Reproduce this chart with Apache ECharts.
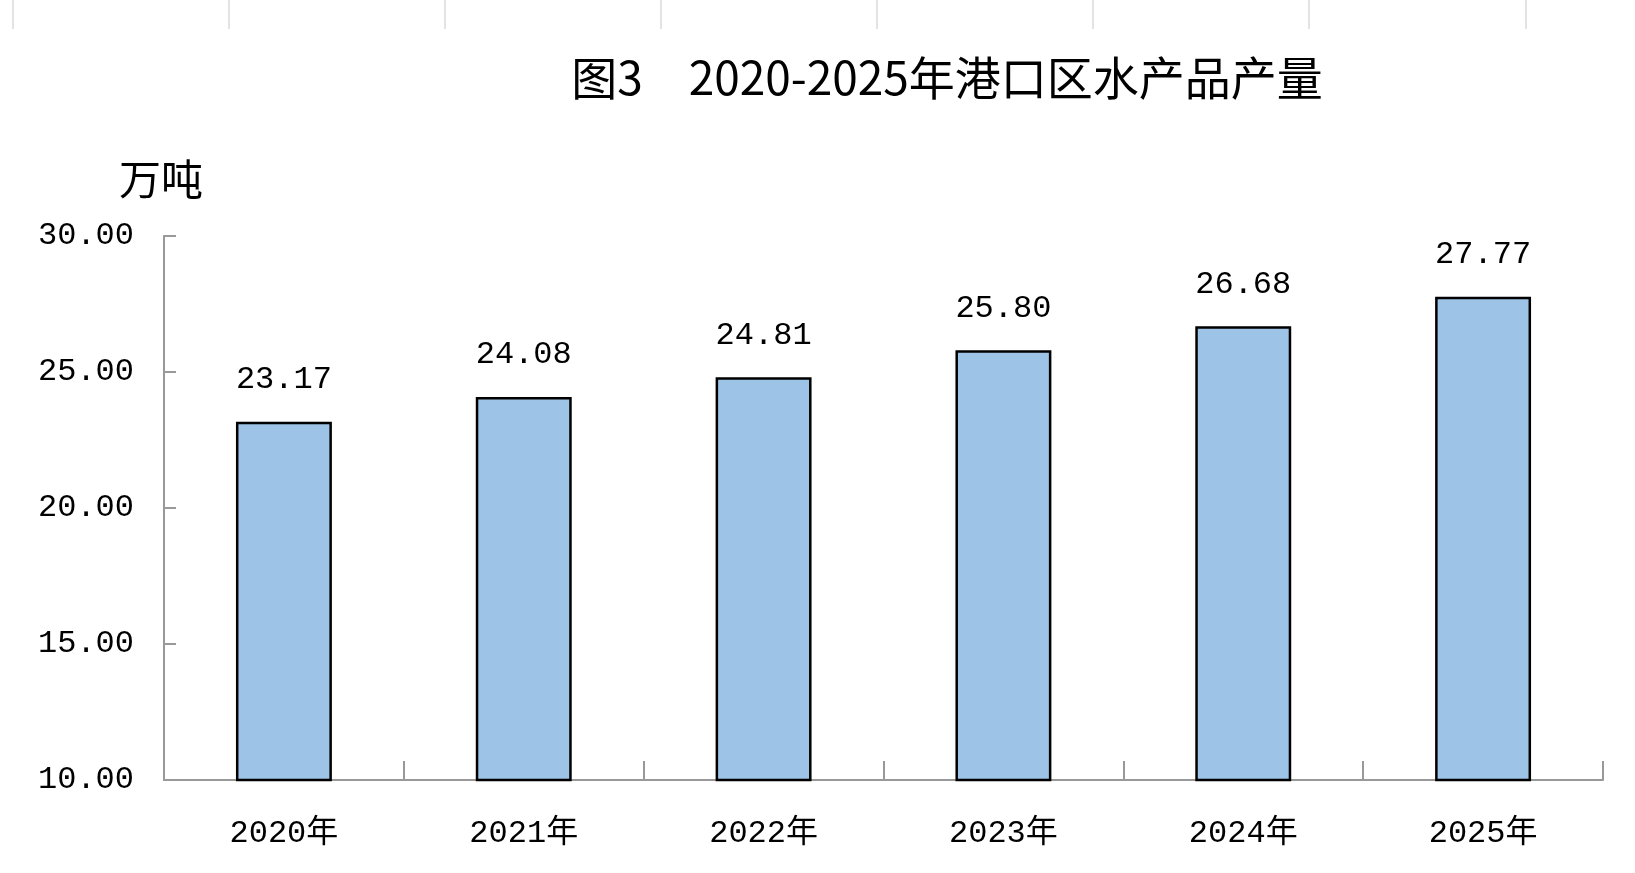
<!DOCTYPE html>
<html>
<head>
<meta charset="utf-8">
<title>港口区水产品产量</title>
<script src="https://cdn.jsdelivr.net/npm/echarts@6/dist/echarts.min.js"></script>
<style>
    html, body { margin: 0; padding: 0; background: #fff; }
    #chart { width: 1635px; height: 873px; }
</style>
</head>
<body>
<div id="chart"></div>
<script>
// 年份
const years = ['2020年', '2021年', '2022年', '2023年', '2024年', '2025年'];
// 水产品产量（万吨）
const output = [23.17, 24.08, 24.81, 25.80, 26.68, 27.77];

const monoFont = '"Liberation Mono", "Noto Sans CJK SC", monospace';

// 表格顶部的浅灰色竖线
const sheetLines = [13, 229, 445, 661, 877, 1093, 1309, 1526].map(function (x) {
    return {
        type: 'line',
        shape: { x1: x, y1: 0, x2: x, y2: 29 },
        style: { stroke: '#e3e3e3', lineWidth: 2 }
    };
});

function drawChart() {
    var dom = document.getElementById('chart');
    var myChart = echarts.init(dom, null, { renderer: 'canvas' });
    var option = {
        animation: false,
        title: {
            text: '图3　2020-2025年港口区水产品产量',
            left: 942,
            top: 50,
            textAlign: 'center',
            textStyle: {
                fontFamily: '"Noto Sans CJK SC"',
                fontWeight: 'normal',
                fontSize: 46,
                color: '#000'
            }
        },
        graphic: sheetLines.concat([
            {
                type: 'text',
                left: 119,
                top: 158,
                style: {
                    text: '万吨',
                    font: '42px "Noto Sans CJK SC"',
                    fill: '#000'
                }
            }
        ]),
        grid: { left: 164, right: 32, top: 236, bottom: 93 },
        xAxis: {
            type: 'category',
            data: years,
            axisLine: { show: true, lineStyle: { color: '#999', width: 2 } },
            axisTick: {
                show: true,
                inside: true,
                length: 19,
                alignWithLabel: false,
                lineStyle: { color: '#999', width: 2 }
            },
            axisLabel: {
                margin: 38,
                fontSize: 32,
                fontFamily: monoFont,
                color: '#000'
            }
        },
        yAxis: {
            type: 'value',
            min: 10,
            max: 30,
            interval: 5,
            splitLine: { show: false },
            axisLine: { show: true, lineStyle: { color: '#999', width: 2 } },
            axisTick: { show: true, inside: true, length: 12, lineStyle: { color: '#999', width: 2 } },
            axisLabel: {
                margin: 30,
                fontSize: 32,
                fontFamily: monoFont,
                color: '#000',
                formatter: function (v) { return v.toFixed(2); }
            }
        },
        series: [
            {
                name: '水产品产量',
                type: 'bar',
                data: output,
                barWidth: '40%',
                itemStyle: {
                    color: '#9dc3e6',
                    borderColor: '#000',
                    borderWidth: 2.5
                },
                label: {
                    show: true,
                    position: 'top',
                    distance: 26,
                    fontSize: 32,
                    fontFamily: monoFont,
                    color: '#000',
                    formatter: function (p) { return p.value.toFixed(2); }
                }
            }
        ]
    };
    myChart.setOption(option);
    window.addEventListener('resize', myChart.resize);
}

drawChart();
</script>
</body>
</html>
